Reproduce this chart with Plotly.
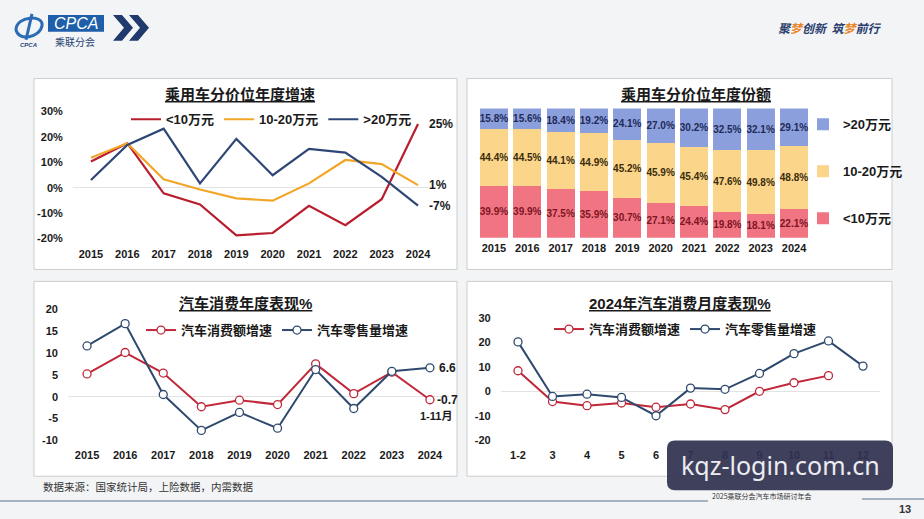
import plotly.graph_objects as go

W, H = 924, 519
def fx(px): return px / W
def fy(py): return 1 - py / H

FONT = "Liberation Sans, Noto Sans CJK SC, sans-serif"
CJK = "Noto Sans CJK SC, Liberation Sans, sans-serif"

# ---------------- data ----------------
years = ["2015", "2016", "2017", "2018", "2019", "2020", "2021", "2022", "2023", "2024"]

# panel 1: growth by price band (%)
growth_lt10 = [10.3, 17.5, -2.2, -6.6, -18.7, -17.8, -7.1, -14.7, -4.5, 25]
growth_10_20 = [11.8, 17.5, 3.3, -0.7, -4.2, -5.1, 1.7, 10.9, 9.3, 1]
growth_gt20 = [3.0, 16.8, 23.2, 1.7, 19.2, 4.9, 15.3, 13.8, 4.3, -7]
band_names = ["<10万元", "10-20万元", ">20万元"]
growth_ticks = [-20, -10, 0, 10, 20, 30]

# panel 2: share by price band (%)
share_lt10 = [39.9, 39.9, 37.5, 35.9, 30.7, 27.1, 24.4, 19.8, 18.1, 22.1]
share_10_20 = [44.4, 44.5, 44.1, 44.9, 45.2, 45.9, 45.4, 47.6, 49.8, 48.8]
share_gt20 = [15.8, 15.6, 18.4, 19.2, 24.1, 27.0, 30.2, 32.5, 32.1, 29.1]

# panel 3: annual consumption
cons_value_yoy = [5.2, 10.1, 5.4, -2.3, -0.8, -1.8, 7.5, 0.7, 5.6, -0.7]
retail_vol_yoy = [11.6, 16.7, 0.5, -7.7, -3.6, -7.2, 6.2, -2.7, 5.8, 6.6]
series_names = ["汽车消费额增速", "汽车零售量增速"]
annual_ticks = [-10, -5, 0, 5, 10, 15, 20]

# panel 4: 2024 monthly
months = ["1-2", "3", "4", "5", "6", "7", "8", "9", "10", "11", "12"]
m_cons_value = [8.5, -4.1, -5.8, -4.7, -6.4, -5.1, -7.4, 0.1, 3.6, 6.5, None]
m_retail_vol = [20.3, -2.0, -1.1, -2.4, -9.9, 1.4, 0.9, 7.4, 15.5, 20.7, 10.4]
monthly_ticks = [-20, -10, 0, 10, 20, 30]

# ---------------- style ----------------
RED = "#B81E2D"
ORANGE = "#F2A628"
NAVY = "#2F4776"
BAR_RED = "#F07482"
BAR_YEL = "#FBD58A"
BAR_BLUE = "#8C9FDD"

fig = go.Figure()

# panel 1 lines
for vals, name, col in [(growth_lt10, band_names[0], RED),
                        (growth_10_20, band_names[1], ORANGE),
                        (growth_gt20, band_names[2], NAVY)]:
    fig.add_trace(go.Scatter(x=years, y=vals, name=name, mode="lines",
                             line=dict(color=col, width=2.2),
                             xaxis="x", yaxis="y", legend="legend",
                             hoverinfo="skip"))

# panel 2 bars
for vals, name, col, tcol, rank in [(share_lt10, band_names[0], BAR_RED, "#7E1424", 3),
                                    (share_10_20, band_names[1], BAR_YEL, "#3A2C0C", 2),
                                    (share_gt20, band_names[2], BAR_BLUE, "#1E2A58", 1)]:
    fig.add_trace(go.Bar(x=years, y=vals, name=name, marker=dict(color=col, line=dict(width=0)),
                         text=vals, texttemplate="%{text:.1f}%", textposition="inside",
                         insidetextanchor="middle", textangle=0, constraintext="none",
                         textfont=dict(family=FONT, size=10, color=tcol, weight="bold"),
                         xaxis="x2", yaxis="y2", legend="legend2", legendgroup=name,
                         legendrank=rank, hoverinfo="skip"))

# panel 3 lines
for vals, name, col in [(cons_value_yoy, series_names[0], "#C0283A"),
                        (retail_vol_yoy, series_names[1], "#2F4A6E")]:
    fig.add_trace(go.Scatter(x=years, y=vals, name=name, mode="lines+markers",
                             line=dict(color=col, width=2),
                             marker=dict(symbol="circle", size=8, color="white",
                                         line=dict(color=col, width=1.3)),
                             xaxis="x3", yaxis="y3", legend="legend3",
                             hoverinfo="skip"))

# panel 4 lines
for vals, name, col in [(m_cons_value, series_names[0], "#C0283A"),
                        (m_retail_vol, series_names[1], "#2F4A6E")]:
    fig.add_trace(go.Scatter(x=months, y=vals, name=name, mode="lines+markers",
                             line=dict(color=col, width=2),
                             marker=dict(symbol="circle", size=8, color="white",
                                         line=dict(color=col, width=1.3)),
                             xaxis="x4", yaxis="y4", legend="legend4",
                             hoverinfo="skip"))

tickf = dict(family=FONT, size=11, color="#1A1A1A", weight="bold")
legf = dict(family=FONT, size=13, color="#1A1A1A", weight="bold")

def xax(d0, d1, anchor, rng):
    return dict(domain=[fx(d0), fx(d1)], anchor=anchor, type="category", range=rng,
                showgrid=False, showline=False, zeroline=False, ticks="",
                tickfont=tickf, fixedrange=True, ticklabelstandoff=2)

def yax(d_top, d_bot, anchor, rng, tv, suffix="", visible=True):
    tt = None if tv is None else [f"{v}{suffix}" for v in tv]
    return dict(domain=[fy(d_bot), fy(d_top)], anchor=anchor, range=rng,
                tickmode="array", tickvals=tv, ticktext=tt, showgrid=False, showline=False,
                zeroline=True, zerolinecolor="#E3E3E3", zerolinewidth=1,
                ticks="", tickfont=tickf, fixedrange=True, visible=visible,
                ticklabelstandoff=9)

shapes = []
annotations = []

def ann(text, x, y, font, xanchor="center", yanchor="middle", **kw):
    d = dict(text=text, x=x, y=y, xref="paper", yref="paper", showarrow=False,
             font=font, xanchor=xanchor, yanchor=yanchor)
    d.update(kw)
    annotations.append(d)

# panel frames
for (x0, y0, x1, y1) in [(34, 77, 457, 269), (467, 77, 892, 269),
                         (34, 281, 457, 477), (467, 281, 892, 477)]:
    shapes.append(dict(type="rect", xref="paper", yref="paper", layer="below",
                       x0=fx(x0), x1=fx(x1), y0=fy(y1), y1=fy(y0),
                       fillcolor="white", line=dict(color="#CDCDCD", width=1)))

# titles
titlef = dict(family=FONT, size=15, color="#1A1A1A", weight="bold", lineposition="under")
for txt, cx, cy in [("乘用车分价位年度增速", 240, 93), ("乘用车分价位年度份额", 696, 93),
                    ("汽车消费年度表现%", 245, 303), ("2024年汽车消费月度表现%", 680, 303)]:
    ann(txt, fx(cx), fy(cy), titlef)

# end labels (category axes -> use category index)
last = len(years) - 1
endf = dict(family=FONT, size=12, color="#1A1A1A", weight="bold")
for v, txt in [(growth_lt10[-1], "25%"), (growth_10_20[-1], "1%"), (growth_gt20[-1], "-7%")]:
    annotations.append(dict(text=txt, x=last, y=v, xref="x", yref="y", showarrow=False,
                            xanchor="left", yanchor="middle", xshift=9, font=endf))
annotations.append(dict(text="6.6", x=last, y=retail_vol_yoy[-1], xref="x3", yref="y3",
                        showarrow=False, xanchor="left", yanchor="middle", xshift=7, font=endf))
annotations.append(dict(text="-0.7", x=last, y=cons_value_yoy[-1], xref="x3", yref="y3",
                        showarrow=False, xanchor="left", yanchor="middle", xshift=5, font=endf))
annotations.append(dict(text="1-11月", x=last, y=cons_value_yoy[-1], xref="x3", yref="y3",
                        showarrow=False, xanchor="center", yanchor="middle", xshift=6, yshift=-16,
                        font=dict(family=FONT, size=11, color="#1A1A1A", weight="bold")))

# header: logo
shapes.append(dict(type="path", xref="paper", yref="paper",
                   path=f"M {fx(16)},{fy(28)} C {fx(16)},{fy(14)} {fx(44)},{fy(12)} {fx(42)},{fy(24)} "
                        f"C {fx(40)},{fy(36)} {fx(18)},{fy(40)} {fx(16)},{fy(28)} Z",
                   line=dict(color="#2B6CB5", width=3), fillcolor="rgba(0,0,0,0)"))
shapes.append(dict(type="path", xref="paper", yref="paper",
                   path=f"M {fx(32)},{fy(12)} L {fx(26)},{fy(38)}",
                   line=dict(color="#2B6CB5", width=3)))
shapes.append(dict(type="rect", xref="paper", yref="paper",
                   x0=fx(48), x1=fx(104), y0=fy(30), y1=fy(13),
                   fillcolor="#1F5FAA", line=dict(width=0)))
ann("<i>CPCA</i>", fx(76), fy(21.5), dict(family=FONT, size=16, color="white"))
ann("乘联分会", fx(75), fy(40), dict(family=CJK, size=10, color="#1F3F73"))
ann("<b><i>CPCA</i></b>", fx(28), fy(43), dict(family=FONT, size=6, color="#1F3F73"))
for off in (0, 16):
    a = 113 + off
    shapes.append(dict(type="path", xref="paper", yref="paper",
                       path=(f"M {fx(a)},{fy(13)} L {fx(a+9)},{fy(13)} L {fx(a+20)},{fy(26)} "
                             f"L {fx(a+9)},{fy(39)} L {fx(a)},{fy(39)} L {fx(a+11)},{fy(26)} Z"),
                       fillcolor="#1F3A6B", line=dict(width=0)))

# slogan
ann("<b><i>聚<span style='color:#E8872A'>梦</span>创新  筑<span style='color:#E8872A'>梦</span>前行</i></b>",
    fx(830), fy(26), dict(family=CJK, size=12, color="#2A3F6E"))

# footer
ann("数据来源：国家统计局，上险数据，内需数据", fx(41), fy(487),
    dict(family=CJK, size=10.5, color="#333333"), xanchor="left")
shapes.append(dict(type="line", xref="paper", yref="paper", x0=0, x1=fx(708), y0=fy(502), y1=fy(502),
                   line=dict(color="#8C9BB0", width=1.5)))
shapes.append(dict(type="line", xref="paper", yref="paper", x0=fx(862), x1=1, y0=fy(500), y1=fy(500),
                   line=dict(color="#8C9BB0", width=1.5)))
ann("2025乘联分会汽车市场研讨年会", fx(710), fy(497), dict(family=CJK, size=7, color="#333333"),
    xanchor="left")
ann("13", fx(905), fy(510), dict(family=FONT, size=11, color="#333333", weight="bold"))

# watermark
x0, x1, y0, y1, r = 667, 893, 441, 491, 8
wm_path = (f"M {fx(x0+r)},{fy(y0)} L {fx(x1-r)},{fy(y0)} Q {fx(x1)},{fy(y0)} {fx(x1)},{fy(y0+r)} "
           f"L {fx(x1)},{fy(y1-r)} Q {fx(x1)},{fy(y1)} {fx(x1-r)},{fy(y1)} "
           f"L {fx(x0+r)},{fy(y1)} Q {fx(x0)},{fy(y1)} {fx(x0)},{fy(y1-r)} "
           f"L {fx(x0)},{fy(y0+r)} Q {fx(x0)},{fy(y0)} {fx(x0+r)},{fy(y0)} Z")
shapes.append(dict(type="path", xref="paper", yref="paper", path=wm_path, layer="above",
                   fillcolor="rgba(48,50,80,0.93)", line=dict(width=0)))
ann("kqz-login.com.cn", fx(780), fy(466),
    dict(family="Noto Sans, sans-serif", size=25, color="#ECECF2"))

fig.update_layout(
    width=W, height=H, margin=dict(l=0, r=0, t=0, b=0),
    paper_bgcolor="#F3F4F6", plot_bgcolor="rgba(0,0,0,0)",
    barmode="stack", barnorm="percent", bargap=0.16,
    xaxis=xax(72.8, 436.2, "y", [-0.5, 9.5]),
    yaxis=yax(104.9, 243.1, "x", [-22, 32], growth_ticks, "%"),
    xaxis2=xax(477.3, 810.7, "y2", [-0.5, 9.5]),
    yaxis2=yax(107, 237, "x2", [0, 100], None, visible=False),
    xaxis3=xax(68, 449, "y3", [-0.5, 9.5]),
    yaxis3=yax(304.6, 445.4, "x3", [-11, 21], annual_ticks),
    xaxis4=xax(500.75, 880.25, "y4", [-0.5, 10.5]),
    yaxis4=yax(313.1, 445.9, "x4", [-22, 32], monthly_ticks),
    legend=dict(x=fx(126), y=fy(118), xanchor="left", yanchor="middle", orientation="h",
                bgcolor="rgba(0,0,0,0)", font=legf, itemwidth=30),
    legend2=dict(x=fx(803), y=fy(108), xanchor="left", yanchor="top", orientation="v",
                 bgcolor="rgba(0,0,0,0)", font=legf, traceorder="grouped",
                 tracegroupgap=27, itemwidth=30),
    legend3=dict(x=fx(141), y=fy(330), xanchor="left", yanchor="middle", orientation="h",
                 bgcolor="rgba(0,0,0,0)", font=legf, itemwidth=30),
    legend4=dict(x=fx(549), y=fy(329), xanchor="left", yanchor="middle", orientation="h",
                 bgcolor="rgba(0,0,0,0)", font=legf, itemwidth=30),
    shapes=shapes, annotations=annotations, showlegend=True,
)

fig.write_html("out.html")
